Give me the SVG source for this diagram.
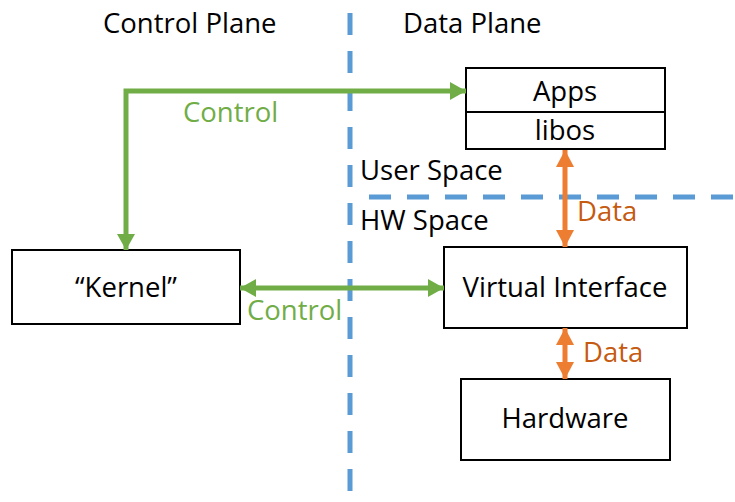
<svg xmlns="http://www.w3.org/2000/svg" width="735" height="502" viewBox="0 0 735 502">
<style>
text{font-family:"Open Sans","Liberation Sans",sans-serif;font-size:27.5px;fill:#000}
.box{fill:#fff;stroke:#000;stroke-width:2}
.c{text-anchor:middle}
.g{fill:#70AD47}
.o{fill:#C55A11}
.div{stroke:#5B9BD5;stroke-width:5;stroke-dasharray:22 16;fill:none}
.ga{stroke:#70AD47;stroke-width:5;fill:none}
.oa{stroke:#ED7D31;stroke-width:5;fill:none}
</style>
<defs>
<marker id="gh" markerUnits="userSpaceOnUse" markerWidth="16" markerHeight="18" viewBox="0 0 16 18" refX="16" refY="9" orient="auto-start-reverse"><path d="M0,0 L16,9 L0,18 z" fill="#70AD47"/></marker>
<marker id="oh" markerUnits="userSpaceOnUse" markerWidth="17" markerHeight="18" viewBox="0 0 17 18" refX="17" refY="9" orient="auto-start-reverse"><path d="M0,0 L17,9 L0,18 z" fill="#ED7D31"/></marker>
</defs>
<g id="dividers">
<line class="div" x1="350" y1="13" x2="350" y2="502"/>
<line class="div" x1="369" y1="197" x2="735" y2="197"/>
</g>
<g id="labels">
<text x="103" y="33">Control Plane</text>
<text x="403" y="33">Data Plane</text>
<text x="360" y="180">User Space</text>
<text x="360" y="230">HW Space</text>
</g>
<g id="apps">
<rect class="box" x="466" y="68" width="199" height="81"/>
<line x1="466" y1="112" x2="665" y2="112" stroke="#000" stroke-width="2"/>
<text class="c" x="565" y="101">Apps</text>
<text class="c" x="565" y="140">libos</text>
</g>
<g id="kernel">
<rect class="box" x="12" y="250" width="228" height="74"/>
<text class="c" x="126" y="297">“Kernel”</text>
</g>
<g id="vif">
<rect class="box" x="444" y="247" width="243" height="81"/>
<text class="c" x="565" y="297">Virtual Interface</text>
</g>
<g id="hardware">
<rect class="box" x="461" y="379" width="209" height="81"/>
<text class="c" x="565" y="428">Hardware</text>
</g>
<g id="connectors">
<polyline class="ga" points="466,91 126,91 126,250" marker-start="url(#gh)" marker-end="url(#gh)"/>
<line class="ga" x1="240" y1="288" x2="444" y2="288" marker-start="url(#gh)" marker-end="url(#gh)"/>
<line class="oa" x1="565" y1="150" x2="565" y2="247" marker-start="url(#oh)" marker-end="url(#oh)"/>
<line class="oa" x1="565" y1="328" x2="565" y2="379" marker-start="url(#oh)" marker-end="url(#oh)"/>
<text class="g" x="183" y="122">Control</text>
<text class="g" x="247" y="320">Control</text>
<text class="o" x="577" y="221">Data</text>
<text class="o" x="583" y="362">Data</text>
</g>
</svg>
